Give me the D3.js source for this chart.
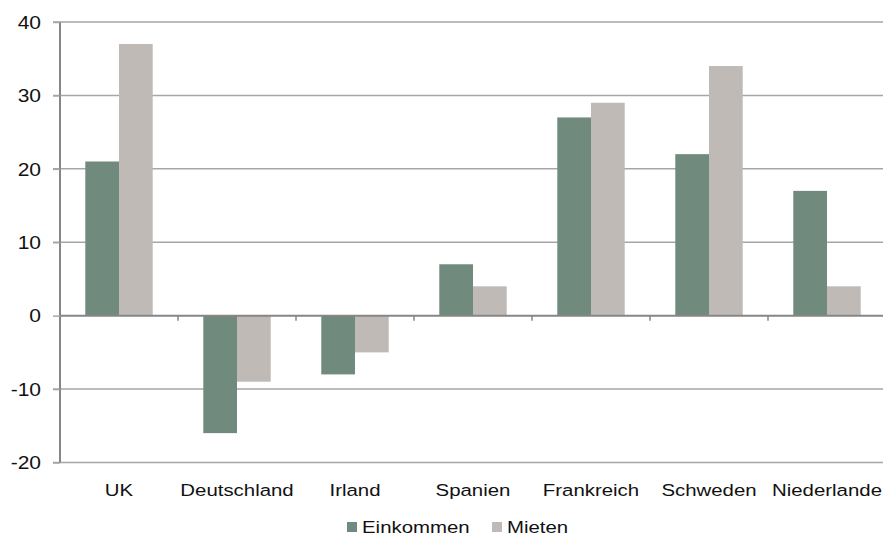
<!DOCTYPE html>
<html lang="de">
<head>
  <meta charset="UTF-8">
  <title>Einkommen und Mieten</title>
  <style>
    body { margin: 0; background: #fff; }
    text { font-family: "Liberation Sans", Arial, sans-serif; fill: #111; }
  </style>
</head>
<body>
<div id="chart"></div>

<script src="https://cdnjs.cloudflare.com/ajax/libs/d3/7.8.5/d3.min.js"></script>
<script>
  const CATEGORIES = ['UK', 'Deutschland', 'Irland', 'Spanien', 'Frankreich', 'Schweden', 'Niederlande'];
  const SERIES = ['Einkommen', 'Mieten'];
  const EINKOMMEN = [21, -16, -8, 7, 27, 22, 17];
  const MIETEN = [37, -9, -5, 4, 29, 34, 4];
  const Y_TICKS = [-20, -10, 0, 10, 20, 30, 40];
  const COLORS = ['#718a7e', '#bfbab5'];

  const W = 883, H = 536;
  const STRETCH = 1.2; // text in the original is a bit wider than tall

  const rows = CATEGORIES.map((c, i) => ({country: c, values: [EINKOMMEN[i], MIETEN[i]]}));

  const svg = d3.select('#chart')
    .append('svg')
    .attr('width', W)
    .attr('height', H);

  // scales
  const x0 = d3.scaleBand()
    .domain(CATEGORIES)
    .range([60, 886])
    .padding(0);

  const x1 = d3.scaleBand()
    .domain(SERIES)
    .range([0, x0.bandwidth()])
    .paddingInner(0)
    .paddingOuter(0.75);

  const y = d3.scaleLinear()
    .domain([-20, 40])
    .range([462.5, 22]);

  // gridlines
  svg.append('g')
    .selectAll('line')
    .data(Y_TICKS.filter(d => d !== 0))
    .join('line')
    .attr('x1', 53)
    .attr('x2', W)
    .attr('y1', d => y(d))
    .attr('y2', d => y(d))
    .attr('stroke', '#a6a6a6')
    .attr('stroke-width', 1.5);

  // bars
  svg.append('g')
    .selectAll('g')
    .data(rows)
    .join('g')
    .attr('transform', d => 'translate(' + x0(d.country) + ',0)')
    .selectAll('rect')
    .data(d => d.values.map((v, i) => ({key: SERIES[i], value: v, i: i})))
    .join('rect')
    .attr('x', d => x1(d.key))
    .attr('width', x1.bandwidth())
    .attr('y', d => y(Math.max(0, d.value)))
    .attr('height', d => Math.abs(y(d.value) - y(0)))
    .attr('fill', d => COLORS[d.i]);

  // y axis
  const yAxis = svg.append('g')
    .attr('transform', 'translate(60,0)')
    .call(d3.axisLeft(y).tickValues(Y_TICKS).tickSize(7).tickFormat(d => String(d)));
  yAxis.select('.domain')
    .attr('stroke', '#868686')
    .attr('stroke-width', 2)
    .attr('d', 'M0,' + y(40) + 'V' + y(-20));
  yAxis.selectAll('.tick line')
    .attr('stroke', '#a6a6a6')
    .attr('stroke-width', 1.5);
  yAxis.selectAll('.tick text')
    .attr('x', -19 / STRETCH)
    .attr('dy', '0.36em')
    .attr('transform', 'scale(' + STRETCH + ',1)')
    .style('font-size', '17.5px')
    .style('fill', '#111');

  // x axis on the zero line
  const xAxis = svg.append('g')
    .attr('transform', 'translate(0,' + y(0) + ')')
    .call(d3.axisBottom(x0).tickSize(0));
  xAxis.select('.domain')
    .attr('stroke', '#868686')
    .attr('stroke-width', 2)
    .attr('d', 'M60,0H' + W);
  xAxis.selectAll('.tick text')
    .attr('y', 180)
    .attr('dy', 0)
    .attr('transform', 'scale(' + STRETCH + ',1)')
    .style('font-size', '17px')
    .style('fill', '#111');

  // ticks between categories
  svg.append('g')
    .selectAll('line')
    .data(CATEGORIES.slice(1))
    .join('line')
    .attr('x1', d => x0(d))
    .attr('x2', d => x0(d))
    .attr('y1', y(0))
    .attr('y2', y(0) + 5)
    .attr('stroke', '#868686')
    .attr('stroke-width', 1.5);

  // legend
  const legendX = [347, 492];
  const legend = svg.append('g')
    .selectAll('g')
    .data(SERIES)
    .join('g')
    .attr('transform', (d, i) => 'translate(' + legendX[i] + ',522)');
  legend.append('rect')
    .attr('width', 10)
    .attr('height', 10)
    .attr('fill', (d, i) => COLORS[i]);
  legend.append('text')
    .attr('transform', 'translate(15,11) scale(' + STRETCH + ',1)')
    .style('font-size', '17px')
    .text(d => d);
</script>
</body>
</html>
